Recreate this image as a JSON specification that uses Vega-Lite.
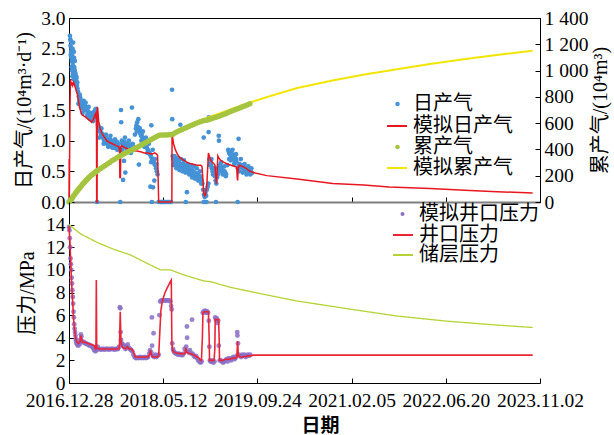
{
  "$schema": "https://vega.github.io/schema/vega-lite/v6.json",
  "background": "white",
  "padding": {"left": 14, "top": 7, "right": 2, "bottom": 10},
  "bounds": "flush",
  "spacing": 0,
  "config": {
    "font": "Liberation Serif, Noto Sans CJK SC",
    "view": {"stroke": null},
    "axis": {
      "grid": false,
      "labelFont": "Liberation Serif",
      "labelFontSize": 19.5,
      "labelColor": "black",
      "titleFont": "Liberation Serif, Noto Sans CJK SC",
      "titleFontSize": 20,
      "titleFontWeight": "normal",
      "titleColor": "black",
      "domainColor": "black",
      "tickColor": "black",
      "tickSize": -5,
      "tickCount": 20,
      "labelPadding": 9,
      "labelFlush": false,
      "labelOverlap": false
    },
    "legend": {
      "orient": "none",
      "title": null,
      "padding": 0,
      "labelFont": "Noto Sans CJK SC",
      "labelFontSize": 20,
      "labelColor": "black",
      "labelOffset": 5,
      "rowPadding": 0
    }
  },
  "resolve": {
    "scale": {"color": "independent", "fill": "independent", "stroke": "independent", "strokeDash": "independent"},
    "legend": {"color": "independent", "fill": "independent", "stroke": "independent", "strokeDash": "independent"}
  },
  "datasets": {
    "dailyObserved": [
      {"day":5,"rate":2.71},{"day":7,"rate":2.65},{"day":8,"rate":2.55},{"day":9,"rate":2.4},{"day":10,"rate":2.62},{"day":11,"rate":2.45},{"day":12,"rate":2.35},{"day":13,"rate":2.5},{"day":14,"rate":2.2},{"day":15,"rate":2.3},{"day":16,"rate":2.15},{"day":17,"rate":2.4},{"day":18,"rate":2.05},{"day":19,"rate":2.5},{"day":20,"rate":2.25},{"day":21,"rate":2.1},{"day":22,"rate":2.6},{"day":23,"rate":2.15},{"day":24,"rate":2.3},{"day":25,"rate":2.0},{"day":26,"rate":2.45},{"day":27,"rate":2.35},{"day":28,"rate":2.2},{"day":29,"rate":2.05},{"day":30,"rate":2.15},{"day":31,"rate":2.3},{"day":32,"rate":2.05},{"day":33,"rate":1.98},{"day":34,"rate":2.1},{"day":35,"rate":2.0},{"day":37,"rate":1.95},{"day":38,"rate":2.05},{"day":40,"rate":2.02},{"day":42,"rate":1.9},{"day":44,"rate":1.95},{"day":45,"rate":1.85},{"day":48,"rate":1.8},
      {"day":50,"rate":1.6},{"day":52,"rate":1.72},{"day":55,"rate":1.65},{"day":57,"rate":1.75},{"day":58,"rate":1.6},{"day":60,"rate":1.7},{"day":63,"rate":1.62},{"day":65,"rate":1.65},{"day":66,"rate":1.55},{"day":70,"rate":1.6},{"day":72,"rate":1.45},{"day":74,"rate":1.52},{"day":78,"rate":1.65},{"day":80,"rate":1.5},{"day":82,"rate":1.58},{"day":86,"rate":1.55},{"day":88,"rate":1.62},{"day":90,"rate":1.5},{"day":94,"rate":1.52},{"day":96,"rate":1.4},{"day":98,"rate":1.45},{"day":102,"rate":1.48},{"day":104,"rate":1.55},{"day":106,"rate":1.42},{"day":110,"rate":1.4},{"day":112,"rate":1.35},{"day":114,"rate":1.45},{"day":118,"rate":1.38},{"day":120,"rate":1.45},{"day":122,"rate":1.35},{"day":126,"rate":1.42},{"day":128,"rate":1.32},{"day":130,"rate":1.4},{"day":134,"rate":1.47},{"day":136,"rate":1.38},{"day":138,"rate":1.5},{"day":142,"rate":1.45},{"day":144,"rate":1.52},{"day":146,"rate":1.4},{"day":149,"rate":0},
      {"day":155,"rate":1.25},{"day":158,"rate":1.2},{"day":160,"rate":1.05},{"day":162,"rate":1.15},{"day":166,"rate":1.18},{"day":170,"rate":1.1},{"day":172,"rate":1.2},{"day":174,"rate":1.12},{"day":178,"rate":1.05},{"day":182,"rate":1.08},{"day":184,"rate":0.95},{"day":186,"rate":1.0},{"day":190,"rate":1.03},{"day":194,"rate":0.98},{"day":196,"rate":1.1},{"day":198,"rate":1.05},{"day":202,"rate":0.95},{"day":206,"rate":1.0},{"day":208,"rate":0.9},{"day":210,"rate":0.97},{"day":214,"rate":0.92},{"day":218,"rate":1.02},{"day":220,"rate":1.08},{"day":222,"rate":0.95},{"day":226,"rate":0.9},{"day":230,"rate":0.98},{"day":232,"rate":0.88},{"day":234,"rate":0.93},{"day":238,"rate":1.0},{"day":242,"rate":0.88},{"day":244,"rate":1.02},{"day":246,"rate":0.95},{"day":250,"rate":0.92},{"day":254,"rate":0.98},{"day":256,"rate":0.85},{"day":258,"rate":0.9},{"day":264,"rate":0.95},{"day":268,"rate":0.88},{"day":272,"rate":0},{"day":276,"rate":1.5},{"day":277,"rate":1.3},
      {"day":280,"rate":1.0},{"day":282,"rate":0.85},{"day":285,"rate":0.95},{"day":287,"rate":0.36},{"day":290,"rate":0.9},{"day":292,"rate":0.67},{"day":295,"rate":0.98},{"day":297,"rate":1.05},{"day":299,"rate":0.48},{"day":300,"rate":0.92},{"day":305,"rate":0.87},{"day":308,"rate":0.82},{"day":310,"rate":0.95},{"day":315,"rate":0.9},{"day":318,"rate":1.0},{"day":320,"rate":0.85},{"day":325,"rate":0.93},{"day":328,"rate":0.8},{"day":330,"rate":0.88},{"day":334,"rate":1.54},{"day":335,"rate":0.84},{"day":338,"rate":0.95},{"day":340,"rate":0.9},{"day":345,"rate":0.86},
      {"day":350,"rate":1.1},{"day":355,"rate":1.2},{"day":358,"rate":1.25},{"day":360,"rate":1.15},{"day":362,"rate":1.3},{"day":366,"rate":1.22},{"day":368,"rate":1.35},{"day":370,"rate":1.18},{"day":371,"rate":0.61},{"day":374,"rate":1.15},{"day":376,"rate":1.2},{"day":378,"rate":1.12},{"day":382,"rate":1.08},{"day":384,"rate":1.0},{"day":386,"rate":1.1},{"day":390,"rate":1.05},{"day":392,"rate":1.15},{"day":394,"rate":1.0},{"day":398,"rate":0.98},{"day":400,"rate":0.9},{"day":402,"rate":1.02},{"day":406,"rate":0.95},{"day":408,"rate":1.05},{"day":410,"rate":0.92},{"day":414,"rate":0.88},{"day":416,"rate":0.8},{"day":418,"rate":0.85},{"day":422,"rate":0.82},{"day":424,"rate":0.95},{"day":426,"rate":0.8},{"day":430,"rate":0.78},{"day":432,"rate":0.25},{"day":434,"rate":0.75},{"day":436,"rate":0.65},{"day":437,"rate":1.25},{"day":438,"rate":0.72},{"day":440,"rate":0},{"day":442,"rate":0.7},{"day":444,"rate":0.85},{"day":446,"rate":0.24},{"day":447,"rate":0.68},{"day":450,"rate":0.65},{"day":453,"rate":0.35},{"day":454,"rate":0.62},{"day":456,"rate":0.7},{"day":458,"rate":0.6},{"day":462,"rate":0.55},{"day":464,"rate":0.62},{"day":466,"rate":0.5},{"day":470,"rate":0.45},
      {"day":476,"rate":0},{"day":481,"rate":0},{"day":486,"rate":0},{"day":490,"rate":0},{"day":494,"rate":0},{"day":498,"rate":0},{"day":502,"rate":0},{"day":507,"rate":0},{"day":512,"rate":0},{"day":518,"rate":0},{"day":524,"rate":0},{"day":530,"rate":0},{"day":536,"rate":0},{"day":541,"rate":0},
      {"day":547,"rate":1.83},{"day":548,"rate":1.35},{"day":550,"rate":0.75},{"day":553,"rate":0.7},{"day":554,"rate":0.6},{"day":556,"rate":0.72},{"day":559,"rate":0.65},{"day":560,"rate":0.75},{"day":562,"rate":0.68},{"day":565,"rate":0.6},{"day":568,"rate":0.7},{"day":570,"rate":0.55},{"day":572,"rate":0.62},{"day":576,"rate":0.66},{"day":578,"rate":0.72},{"day":580,"rate":0.58},{"day":584,"rate":0.64},{"day":586,"rate":0.52},{"day":588,"rate":0.6},{"day":591,"rate":1.26},{"day":592,"rate":0.55},{"day":594,"rate":0.7},{"day":596,"rate":0.62},{"day":600,"rate":0.6},{"day":602,"rate":0.5},{"day":604,"rate":0.57},{"day":608,"rate":0.62},{"day":610,"rate":0.68},{"day":612,"rate":0.55},{"day":616,"rate":0.6},{"day":618,"rate":0.48},{"day":620,"rate":0},{"day":621,"rate":0.52},{"day":624,"rate":0.58},{"day":626,"rate":0.16},{"day":628,"rate":0.5},{"day":630,"rate":0.62},{"day":632,"rate":0.56},{"day":636,"rate":0.48},{"day":638,"rate":0.45},{"day":640,"rate":0.55},{"day":644,"rate":0.5},{"day":646,"rate":0.6},{"day":648,"rate":0.45},{"day":652,"rate":0.52},{"day":654,"rate":0.4},{"day":656,"rate":0.47},{"day":660,"rate":0.5},{"day":662,"rate":0.58},{"day":664,"rate":0.43},{"day":668,"rate":0.48},{"day":670,"rate":0.38},{"day":672,"rate":0.45},{"day":676,"rate":0.42},{"day":678,"rate":0.55},{"day":680,"rate":0.46},{"day":684,"rate":0.4},{"day":686,"rate":0.35},{"day":688,"rate":0.44},{"day":692,"rate":0.38},{"day":694,"rate":0.5},{"day":696,"rate":0.42},{"day":700,"rate":0.4},{"day":702,"rate":0.3},{"day":704,"rate":0.35},
      {"day":708,"rate":0.3},{"day":712,"rate":0.2},{"day":715,"rate":0},{"day":715,"rate":1.05},{"day":716,"rate":0.12},{"day":720,"rate":0.08},{"day":722,"rate":0},{"day":724,"rate":0.15},{"day":728,"rate":0.1},{"day":730,"rate":0},{"day":732,"rate":0.2},{"day":736,"rate":0.25},{"day":740,"rate":0.3},{"day":741,"rate":1.14},{"day":742,"rate":1.38},{"day":745,"rate":0.7},{"day":748,"rate":0.6},{"day":750,"rate":0.65},{"day":754,"rate":0.6},{"day":756,"rate":0.7},{"day":758,"rate":0.55},{"day":762,"rate":0.5},{"day":764,"rate":0.45},{"day":766,"rate":0.55},{"day":770,"rate":0.48},{"day":772,"rate":0.55},{"day":774,"rate":0.42},{"day":778,"rate":0.35},{"day":780,"rate":0},{"day":782,"rate":0.3},{"day":786,"rate":0.4},{"day":788,"rate":0.55},{"day":790,"rate":0.45},{"day":794,"rate":0.5},{"day":795,"rate":1.08},{"day":796,"rate":1.0},{"day":798,"rate":0.55},{"day":800,"rate":0.5},{"day":802,"rate":0.6},{"day":806,"rate":0.58},{"day":808,"rate":0.65},{"day":810,"rate":0.55},{"day":814,"rate":0.52},{"day":816,"rate":0.45},{"day":818,"rate":0.5},{"day":822,"rate":0.48},{"day":824,"rate":0.58},{"day":826,"rate":0.5},{"day":830,"rate":0.47},{"day":832,"rate":0.42},{"day":834,"rate":0.45},
      {"day":840,"rate":0.6},{"day":845,"rate":0.85},{"day":848,"rate":0.82},{"day":850,"rate":0.7},{"day":851,"rate":0.8},{"day":854,"rate":0.78},{"day":857,"rate":0.83},{"day":858,"rate":0.68},{"day":860,"rate":0.75},{"day":863,"rate":0.8},{"day":866,"rate":0.72},{"day":868,"rate":0.85},{"day":869,"rate":0.76},{"day":872,"rate":0.7},{"day":875,"rate":0.74},{"day":876,"rate":0.62},{"day":878,"rate":0.68},{"day":881,"rate":0.72},{"day":884,"rate":0.66},{"day":886,"rate":0.78},{"day":887,"rate":0.7},{"day":890,"rate":0.65},{"day":895,"rate":0},{"day":896,"rate":0.55},{"day":900,"rate":1.03},{"day":901,"rate":0.6},{"day":904,"rate":0.5},{"day":905,"rate":0.62},{"day":910,"rate":0.58},{"day":912,"rate":0.7},{"day":915,"rate":0.6},{"day":920,"rate":0.55},{"day":922,"rate":0.48},{"day":925,"rate":0.57},{"day":930,"rate":0.52},{"day":932,"rate":0.62},{"day":935,"rate":0.55},{"day":940,"rate":0.5},{"day":942,"rate":0.45},{"day":945,"rate":0.53},{"day":950,"rate":0.5},{"day":952,"rate":0.58},{"day":955,"rate":0.48},{"day":960,"rate":0.52},{"day":962,"rate":0.45},{"day":965,"rate":0.5},{"day":968,"rate":0.55},{"day":970,"rate":0.47}
    ],
    "dailySimulated": [
      {"day":0,"rate":0},{"day":1,"rate":0.7},{"day":2,"rate":0.1},{"day":5,"rate":1.5},{"day":8,"rate":2.0},{"day":12,"rate":1.9},{"day":16,"rate":1.95},{"day":20,"rate":1.9},{"day":25,"rate":1.95},{"day":30,"rate":1.9},{"day":35,"rate":1.85},{"day":40,"rate":1.8},{"day":45,"rate":1.75},{"day":50,"rate":1.65},{"day":55,"rate":1.55},{"day":60,"rate":1.5},{"day":65,"rate":1.45},{"day":70,"rate":1.42},{"day":80,"rate":1.4},{"day":90,"rate":1.38},{"day":100,"rate":1.35},{"day":110,"rate":1.33},{"day":120,"rate":1.3},{"day":130,"rate":1.35},{"day":138,"rate":1.42},{"day":143,"rate":1.45},{"day":146,"rate":1.2},{"day":147,"rate":0},{"day":149,"rate":0},{"day":150,"rate":1.55},{"day":153,"rate":1.5},{"day":158,"rate":1.3},{"day":165,"rate":1.2},{"day":175,"rate":1.12},{"day":185,"rate":1.07},{"day":200,"rate":1.0},{"day":215,"rate":0.97},{"day":230,"rate":0.95},{"day":250,"rate":0.92},{"day":265,"rate":0.9},{"day":268,"rate":0.85},{"day":270,"rate":0.4},{"day":273,"rate":0.4},{"day":275,"rate":0.9},{"day":280,"rate":0.92},{"day":300,"rate":0.88},{"day":320,"rate":0.86},{"day":340,"rate":0.84},{"day":360,"rate":0.83},{"day":380,"rate":0.82},{"day":400,"rate":0.8},{"day":420,"rate":0.8},{"day":440,"rate":0.78},{"day":455,"rate":0.8},{"day":465,"rate":0.78},{"day":470,"rate":0.76},{"day":473,"rate":0.4},{"day":476,"rate":0},{"day":546,"rate":0},{"day":547,"rate":1.1},{"day":550,"rate":1.05},{"day":555,"rate":0.95},{"day":565,"rate":0.85},{"day":575,"rate":0.78},{"day":590,"rate":0.72},{"day":610,"rate":0.68},{"day":625,"rate":0.65},{"day":640,"rate":0.63},{"day":655,"rate":0.62},{"day":680,"rate":0.6},{"day":700,"rate":0.6},{"day":706,"rate":0.58},{"day":710,"rate":0.4},{"day":715,"rate":0.15},{"day":720,"rate":0.1},{"day":725,"rate":0.12},{"day":732,"rate":0.3},{"day":740,"rate":0.8},{"day":745,"rate":0.75},{"day":750,"rate":0.7},{"day":760,"rate":0.65},{"day":770,"rate":0.62},{"day":775,"rate":0.6},{"day":778,"rate":0.45},{"day":782,"rate":0.3},{"day":786,"rate":0.45},{"day":790,"rate":0.75},{"day":795,"rate":0.72},{"day":805,"rate":0.68},{"day":820,"rate":0.65},{"day":840,"rate":0.62},{"day":860,"rate":0.6},{"day":880,"rate":0.58},{"day":890,"rate":0.57},{"day":893,"rate":0.4},{"day":895,"rate":0.35},{"day":898,"rate":0.55},{"day":905,"rate":0.6},{"day":920,"rate":0.58},{"day":940,"rate":0.55},{"day":960,"rate":0.5},{"day":980,"rate":0.48},{"day":1050,"rate":0.43},{"day":1210,"rate":0.376},{"day":1400,"rate":0.3},{"day":1564,"rate":0.277},{"day":1700,"rate":0.245},{"day":1916,"rate":0.222},{"day":2100,"rate":0.19},{"day":2272,"rate":0.168},{"day":2461,"rate":0.147}
    ],
    "cumulativeObserved": [
      {"day":0,"cum":0},{"day":6,"cum":9},{"day":12,"cum":20},{"day":18,"cum":33},{"day":24,"cum":46},{"day":30,"cum":58},{"day":36,"cum":70},{"day":42,"cum":81},{"day":48,"cum":92},{"day":54,"cum":103},{"day":60,"cum":113},{"day":66,"cum":124},{"day":72,"cum":135},{"day":78,"cum":144},{"day":84,"cum":153},{"day":90,"cum":163},{"day":96,"cum":172},{"day":102,"cum":181},{"day":108,"cum":190},{"day":114,"cum":198},{"day":120,"cum":205},{"day":126,"cum":212},{"day":132,"cum":219},{"day":138,"cum":226},{"day":144,"cum":232},{"day":150,"cum":238},{"day":156,"cum":243},{"day":168,"cum":255},{"day":180,"cum":266},{"day":192,"cum":277},{"day":204,"cum":290},{"day":216,"cum":301},{"day":228,"cum":313},{"day":240,"cum":324},{"day":252,"cum":335},{"day":264,"cum":345},{"day":276,"cum":354},{"day":288,"cum":363},{"day":300,"cum":372},{"day":312,"cum":381},{"day":324,"cum":390},{"day":336,"cum":398},{"day":348,"cum":407},{"day":360,"cum":415},{"day":372,"cum":425},{"day":384,"cum":434},{"day":396,"cum":444},{"day":408,"cum":453},{"day":420,"cum":463},{"day":432,"cum":472},{"day":444,"cum":482},{"day":456,"cum":491},{"day":468,"cum":500},{"day":480,"cum":508},{"day":492,"cum":510},{"day":504,"cum":510},{"day":516,"cum":510},{"day":528,"cum":511},{"day":540,"cum":511},{"day":552,"cum":516},{"day":564,"cum":527},{"day":576,"cum":536},{"day":588,"cum":544},{"day":600,"cum":552},{"day":612,"cum":560},{"day":624,"cum":567},{"day":636,"cum":575},{"day":648,"cum":583},{"day":660,"cum":590},{"day":672,"cum":598},{"day":684,"cum":604},{"day":696,"cum":611},{"day":708,"cum":617},{"day":720,"cum":620},{"day":732,"cum":622},{"day":744,"cum":627},{"day":756,"cum":634},{"day":768,"cum":640},{"day":780,"cum":645},{"day":792,"cum":650},{"day":804,"cum":656},{"day":816,"cum":663},{"day":828,"cum":670},{"day":840,"cum":677},{"day":852,"cum":684},{"day":864,"cum":692},{"day":876,"cum":699},{"day":888,"cum":706},{"day":900,"cum":712},{"day":912,"cum":719},{"day":924,"cum":726},{"day":936,"cum":733},{"day":948,"cum":740},{"day":960,"cum":748}
    ],
    "cumulativeSimulated": [
      {"day":0,"cum":0},{"day":20,"cum":40},{"day":42,"cum":86},{"day":60,"cum":118},{"day":78,"cum":149},{"day":110,"cum":196},{"day":148,"cum":238},{"day":180,"cum":272},{"day":212,"cum":302},{"day":250,"cum":338},{"day":287,"cum":368},{"day":325,"cum":395},{"day":361,"cum":420},{"day":400,"cum":452},{"day":440,"cum":485},{"day":467,"cum":510},{"day":476,"cum":517},{"day":547,"cum":517},{"day":580,"cum":542},{"day":620,"cum":572},{"day":679,"cum":612},{"day":750,"cum":650},{"day":821,"cum":685},{"day":890,"cum":722},{"day":962,"cum":758},{"day":1050,"cum":798},{"day":1210,"cum":867},{"day":1400,"cum":925},{"day":1564,"cum":969},{"day":1750,"cum":1012},{"day":1916,"cum":1050},{"day":2100,"cum":1087},{"day":2272,"cum":1119},{"day":2461,"cum":1151}
    ],
    "wellheadObserved": [
      {"day":0,"p":13.8},{"day":2,"p":13.5},{"day":4,"p":12.8},{"day":6,"p":12.0},{"day":8,"p":11.0},{"day":10,"p":10.5},{"day":12,"p":10.0},{"day":14,"p":9.3},{"day":16,"p":8.8},{"day":18,"p":8.2},{"day":20,"p":7.6},{"day":22,"p":7.0},{"day":24,"p":6.3},{"day":26,"p":5.8},{"day":28,"p":5.2},{"day":30,"p":4.8},{"day":32,"p":4.5},{"day":34,"p":4.2},{"day":36,"p":3.9},{"day":38,"p":3.7},{"day":40,"p":3.5},{"day":44,"p":3.4},{"day":48,"p":3.3},{"day":52,"p":3.5},{"day":56,"p":3.4},{"day":60,"p":3.8},{"day":63,"p":4.3},{"day":66,"p":4.1},{"day":70,"p":3.7},{"day":75,"p":3.6},{"day":80,"p":3.6},{"day":86,"p":3.5},{"day":92,"p":3.5},{"day":98,"p":3.4},{"day":104,"p":3.4},{"day":110,"p":3.3},{"day":116,"p":3.3},{"day":122,"p":3.2},{"day":128,"p":3.1},{"day":134,"p":2.9},{"day":140,"p":2.8},{"day":146,"p":2.9},{"day":152,"p":3.2},{"day":158,"p":3.0},{"day":164,"p":3.0},{"day":170,"p":2.95},{"day":176,"p":3.0},{"day":182,"p":3.0},{"day":188,"p":2.95},{"day":194,"p":3.0},{"day":200,"p":3.0},{"day":206,"p":3.0},{"day":212,"p":2.95},{"day":218,"p":3.0},{"day":224,"p":3.0},{"day":230,"p":3.0},{"day":236,"p":3.0},{"day":242,"p":2.95},{"day":248,"p":3.0},{"day":254,"p":3.0},{"day":260,"p":3.0},{"day":266,"p":3.2},{"day":270,"p":6.7},{"day":272,"p":6.6},{"day":274,"p":4.5},{"day":276,"p":3.8},{"day":280,"p":3.5},{"day":285,"p":3.4},{"day":290,"p":3.2},{"day":295,"p":3.3},{"day":300,"p":3.0},{"day":306,"p":3.2},{"day":312,"p":3.4},{"day":318,"p":3.1},{"day":324,"p":3.0},{"day":330,"p":2.9},{"day":336,"p":2.8},{"day":342,"p":2.5},{"day":348,"p":2.3},{"day":354,"p":2.2},{"day":360,"p":2.2},{"day":366,"p":2.25},{"day":372,"p":2.2},{"day":378,"p":2.3},{"day":384,"p":2.2},{"day":390,"p":2.25},{"day":396,"p":2.2},{"day":402,"p":2.3},{"day":408,"p":2.2},{"day":414,"p":2.25},{"day":420,"p":2.3},{"day":426,"p":2.6},{"day":430,"p":2.9},{"day":436,"p":2.7},{"day":440,"p":5.8},{"day":441,"p":3.3},{"day":446,"p":2.4},{"day":449,"p":4.4},{"day":452,"p":2.3},{"day":458,"p":2.5},{"day":464,"p":2.3},{"day":470,"p":2.4},{"day":476,"p":2.5},{"day":480,"p":6.0},{"day":484,"p":7.2},{"day":490,"p":7.3},{"day":496,"p":7.3},{"day":502,"p":7.3},{"day":508,"p":7.3},{"day":514,"p":7.3},{"day":520,"p":7.3},{"day":526,"p":7.3},{"day":532,"p":7.3},{"day":538,"p":7.2},{"day":542,"p":6.8},{"day":545,"p":6.5},{"day":548,"p":3.5},{"day":552,"p":3.0},{"day":556,"p":2.8},{"day":560,"p":2.7},{"day":566,"p":2.6},{"day":572,"p":2.6},{"day":578,"p":2.5},{"day":584,"p":2.6},{"day":590,"p":2.5},{"day":596,"p":2.5},{"day":602,"p":2.45},{"day":608,"p":2.6},{"day":614,"p":3.0},{"day":622,"p":3.2},{"day":626,"p":5.0},{"day":627,"p":4.0},{"day":630,"p":2.8},{"day":636,"p":2.7},{"day":642,"p":2.9},{"day":648,"p":2.6},{"day":653,"p":5.6},{"day":656,"p":2.6},{"day":662,"p":2.4},{"day":668,"p":2.3},{"day":674,"p":2.4},{"day":680,"p":2.2},{"day":686,"p":2.0},{"day":692,"p":1.9},{"day":698,"p":1.8},{"day":704,"p":1.9},{"day":710,"p":6.2},{"day":714,"p":6.3},{"day":718,"p":6.3},{"day":722,"p":6.4},{"day":726,"p":6.2},{"day":730,"p":6.3},{"day":734,"p":6.3},{"day":738,"p":6.2},{"day":742,"p":5.5},{"day":745,"p":3.2},{"day":748,"p":2.0},{"day":752,"p":1.9},{"day":756,"p":1.9},{"day":760,"p":2.0},{"day":766,"p":1.8},{"day":772,"p":1.9},{"day":776,"p":5.8},{"day":780,"p":5.6},{"day":784,"p":5.7},{"day":788,"p":5.3},{"day":792,"p":5.5},{"day":795,"p":3.3},{"day":800,"p":2.0},{"day":806,"p":2.0},{"day":812,"p":1.9},{"day":818,"p":1.8},{"day":824,"p":1.9},{"day":830,"p":2.0},{"day":836,"p":2.1},{"day":842,"p":1.9},{"day":848,"p":2.2},{"day":854,"p":2.1},{"day":860,"p":2.0},{"day":866,"p":2.2},{"day":872,"p":2.3},{"day":878,"p":2.1},{"day":884,"p":2.2},{"day":890,"p":2.4},{"day":893,"p":4.5},{"day":894,"p":4.2},{"day":897,"p":3.5},{"day":902,"p":2.5},{"day":908,"p":2.4},{"day":914,"p":2.3},{"day":920,"p":2.5},{"day":926,"p":2.4},{"day":932,"p":2.5},{"day":938,"p":2.3},{"day":944,"p":2.4},{"day":950,"p":2.5},{"day":956,"p":2.4},{"day":962,"p":2.5}
    ],
    "wellheadSimulated": [
      {"day":0,"p":13.85},{"day":5,"p":12.5},{"day":10,"p":10.3},{"day":15,"p":8.5},{"day":20,"p":7.0},{"day":25,"p":5.5},{"day":30,"p":4.6},{"day":35,"p":4.0},{"day":40,"p":3.7},{"day":50,"p":3.5},{"day":58,"p":3.6},{"day":62,"p":4.2},{"day":66,"p":4.0},{"day":72,"p":3.6},{"day":85,"p":3.6},{"day":100,"p":3.5},{"day":120,"p":3.4},{"day":135,"p":3.3},{"day":140,"p":3.0},{"day":143,"p":3.0},{"day":145,"p":9.1},{"day":147,"p":3.2},{"day":150,"p":3.1},{"day":160,"p":3.0},{"day":200,"p":3.0},{"day":240,"p":3.0},{"day":265,"p":3.0},{"day":268,"p":3.4},{"day":272,"p":6.3},{"day":276,"p":3.6},{"day":282,"p":3.2},{"day":290,"p":3.1},{"day":300,"p":3.0},{"day":310,"p":3.2},{"day":320,"p":3.0},{"day":335,"p":3.0},{"day":345,"p":2.6},{"day":352,"p":2.3},{"day":380,"p":2.3},{"day":400,"p":2.3},{"day":420,"p":2.3},{"day":428,"p":2.5},{"day":432,"p":2.9},{"day":436,"p":2.6},{"day":442,"p":2.3},{"day":460,"p":2.3},{"day":470,"p":2.3},{"day":476,"p":2.4},{"day":482,"p":4.5},{"day":488,"p":6.45},{"day":495,"p":7.2},{"day":502,"p":7.6},{"day":510,"p":8.0},{"day":520,"p":8.37},{"day":530,"p":8.7},{"day":538,"p":8.96},{"day":543,"p":9.1},{"day":546,"p":3.5},{"day":550,"p":2.9},{"day":555,"p":2.75},{"day":570,"p":2.65},{"day":590,"p":2.6},{"day":605,"p":2.6},{"day":615,"p":2.6},{"day":620,"p":3.1},{"day":625,"p":2.7},{"day":640,"p":2.6},{"day":660,"p":2.5},{"day":680,"p":2.3},{"day":690,"p":2.2},{"day":698,"p":2.0},{"day":703,"p":2.0},{"day":708,"p":4.0},{"day":711,"p":6.2},{"day":718,"p":6.3},{"day":730,"p":6.3},{"day":740,"p":6.3},{"day":744,"p":4.0},{"day":746,"p":2.0},{"day":760,"p":2.0},{"day":770,"p":2.0},{"day":774,"p":3.0},{"day":776,"p":5.6},{"day":785,"p":5.6},{"day":794,"p":5.6},{"day":797,"p":4.0},{"day":799,"p":2.0},{"day":815,"p":2.0},{"day":830,"p":2.1},{"day":850,"p":2.1},{"day":870,"p":2.2},{"day":885,"p":2.2},{"day":891,"p":2.3},{"day":895,"p":3.7},{"day":899,"p":2.4},{"day":906,"p":2.3},{"day":920,"p":2.3},{"day":935,"p":2.35},{"day":950,"p":2.4},{"day":962,"p":2.4},{"day":980,"p":2.46},{"day":2461,"p":2.46}
    ],
    "reservoir": [
      {"day":0,"p":14.0},{"day":60,"p":13.2},{"day":149,"p":12.43},{"day":240,"p":11.8},{"day":325,"p":11.33},{"day":400,"p":10.7},{"day":485,"p":10.0},{"day":538,"p":10.0},{"day":609,"p":9.56},{"day":715,"p":9.02},{"day":750,"p":8.96},{"day":856,"p":8.46},{"day":1033,"p":7.84},{"day":1210,"p":7.25},{"day":1500,"p":6.51},{"day":1741,"p":5.92},{"day":2003,"p":5.47},{"day":2272,"p":5.12},{"day":2461,"p":4.91}
    ]
  },
  "vconcat": [
    {
      "width": 471,
      "height": 184,
      "view": {"stroke": "black", "strokeWidth": 1},
      "resolve": {"scale": {"y": "independent"}},
      "encoding": {
        "x": {
          "field": "day",
          "type": "quantitative",
          "scale": {"domain": [0, 2500], "nice": false, "zero": false},
          "axis": {"values": [0, 500, 1000, 1500, 2000, 2500], "tickCount": 20, "labels": false, "title": null, "domainColor": "#7f7f7f", "domainWidth": 2}
        }
      },
      "layer": [
        {
          "layer": [
            {
              "data": {"name": "dailyObserved"},
              "mark": {"type": "point", "filled": true, "size": 22, "opacity": 1},
              "encoding": {
                "y": {
                  "field": "rate",
                  "type": "quantitative",
                  "scale": {"domain": [0, 3], "nice": false},
                  "axis": {"values": [0, 0.5, 1, 1.5, 2, 2.5, 3], "tickCount": 20, "format": ".1f", "title": "日产气/(10⁴m³·d⁻¹)", "titlePadding": 6}
                },
                "color": {
                  "datum": "日产气",
                  "type": "nominal",
                  "scale": {"domain": ["日产气"], "range": ["#4592d6"]},
                  "legend": {"legendX": 318.5, "legendY": 76, "symbolType": "circle", "symbolSize": 20, "symbolStrokeWidth": 0, "labelOffset": 5.5}
                }
              }
            },
            {
              "data": {"name": "dailySimulated"},
              "mark": {"type": "line", "strokeWidth": 1.5},
              "encoding": {
                "y": {"field": "rate", "type": "quantitative"},
                "stroke": {
                  "datum": "模拟日产气",
                  "type": "nominal",
                  "scale": {"domain": ["模拟日产气"], "range": ["#e8171f"]},
                  "legend": {"legendX": 317, "legendY": 97, "symbolType": "stroke", "symbolSize": 400, "symbolStrokeWidth": 2}
                }
              }
            }
          ]
        },
        {
          "layer": [
            {
              "data": {"name": "cumulativeSimulated"},
              "mark": {"type": "line", "strokeWidth": 2, "color": "#f2e600"},
              "encoding": {
                "y": {
                  "field": "cum",
                  "type": "quantitative",
                  "scale": {"domain": [0, 1400], "nice": false},
                  "axis": {
                    "orient": "right",
                    "values": [0, 200, 400, 600, 800, 1000, 1200, 1400],
                    "tickCount": 20,
                    "labelExpr": "replace(format(datum.value, ','), ',', ' ')",
                    "title": "累产气/(10⁴m³)",
                    "titleAngle": 270,
                    "titleBaseline": "top",
                    "titlePadding": 3
                  }
                },
                "strokeDash": {
                  "datum": "模拟累产气",
                  "type": "nominal",
                  "scale": {"domain": ["模拟累产气"], "range": [[1, 0]]},
                  "legend": {"legendX": 317, "legendY": 139, "symbolType": "stroke", "symbolSize": 400, "symbolStrokeWidth": 2, "symbolStrokeColor": "#f2e600"}
                }
              }
            },
            {
              "data": {"name": "cumulativeObserved"},
              "mark": {"type": "point", "filled": true, "size": 30, "opacity": 1},
              "encoding": {
                "y": {"field": "cum", "type": "quantitative"},
                "fill": {
                  "datum": "累产气",
                  "type": "nominal",
                  "scale": {"domain": ["累产气"], "range": ["#a5c440"]},
                  "legend": {"legendX": 318.5, "legendY": 119, "symbolType": "circle", "symbolSize": 20, "symbolStrokeWidth": 0, "labelOffset": 5.5}
                }
              }
            }
          ]
        }
      ]
    },
    {
      "width": 471,
      "height": 181,
      "view": {"stroke": null},
      "encoding": {
        "x": {
          "field": "day",
          "type": "quantitative",
          "scale": {"domain": [0, 2500], "nice": false, "zero": false},
          "axis": {
            "values": [0, 500, 1000, 1500, 2000, 2500],
            "tickCount": 20,
            "labelPadding": 13,
            "labelExpr": "utcFormat(datum.value * 86400000 + utc(2016, 11, 28), '%Y.%m.%d')",
            "title": "日期",
            "titleFont": "Noto Sans CJK SC",
            "titleFontSize": 19,
            "titleFontWeight": "bold",
            "titleX": 251,
            "titleY": 33,
            "titleBaseline": "top"
          }
        }
      },
      "layer": [
        {
          "data": {"name": "wellheadObserved"},
          "mark": {"type": "point", "filled": true, "size": 24, "opacity": 0.85},
          "encoding": {
            "y": {
              "field": "p",
              "type": "quantitative",
              "scale": {"domain": [0, 16], "nice": false},
              "axis": {"values": [0, 2, 4, 6, 8, 10, 12, 14], "tickCount": 20, "title": "压力/MPa", "titlePadding": 8}
            },
            "color": {
              "datum": "模拟井口压力",
              "type": "nominal",
              "scale": {"domain": ["模拟井口压力"], "range": ["#8a6fc6"]},
              "legend": {"legendX": 323.5, "legendY": 2, "symbolType": "circle", "symbolSize": 16, "symbolStrokeWidth": 0, "symbolOpacity": 1, "symbolFillColor": "#9a6fb8", "labelOffset": 6.5}
            }
          }
        },
        {
          "data": {"name": "wellheadSimulated"},
          "mark": {"type": "line", "strokeWidth": 1.6},
          "encoding": {
            "y": {"field": "p", "type": "quantitative"},
            "stroke": {
              "datum": "井口压力",
              "type": "nominal",
              "scale": {"domain": ["井口压力"], "range": ["#eb2436"]},
              "legend": {"legendX": 323, "legendY": 22, "symbolType": "stroke", "symbolSize": 400, "symbolStrokeWidth": 2}
            }
          }
        },
        {
          "data": {"name": "reservoir"},
          "mark": {"type": "line", "strokeWidth": 1.3, "color": "#b4d334"},
          "encoding": {
            "y": {"field": "p", "type": "quantitative"},
            "strokeDash": {
              "datum": "储层压力",
              "type": "nominal",
              "scale": {"domain": ["储层压力"], "range": [[1, 0]]},
              "legend": {"legendX": 323, "legendY": 42, "symbolType": "stroke", "symbolSize": 400, "symbolStrokeWidth": 2, "symbolStrokeColor": "#b4d334"}
            }
          }
        },
        {
          "mark": {"type": "rule", "color": "black", "strokeWidth": 1},
          "encoding": {"x": {"datum": 2500}}
        }
      ]
    }
  ]
}
